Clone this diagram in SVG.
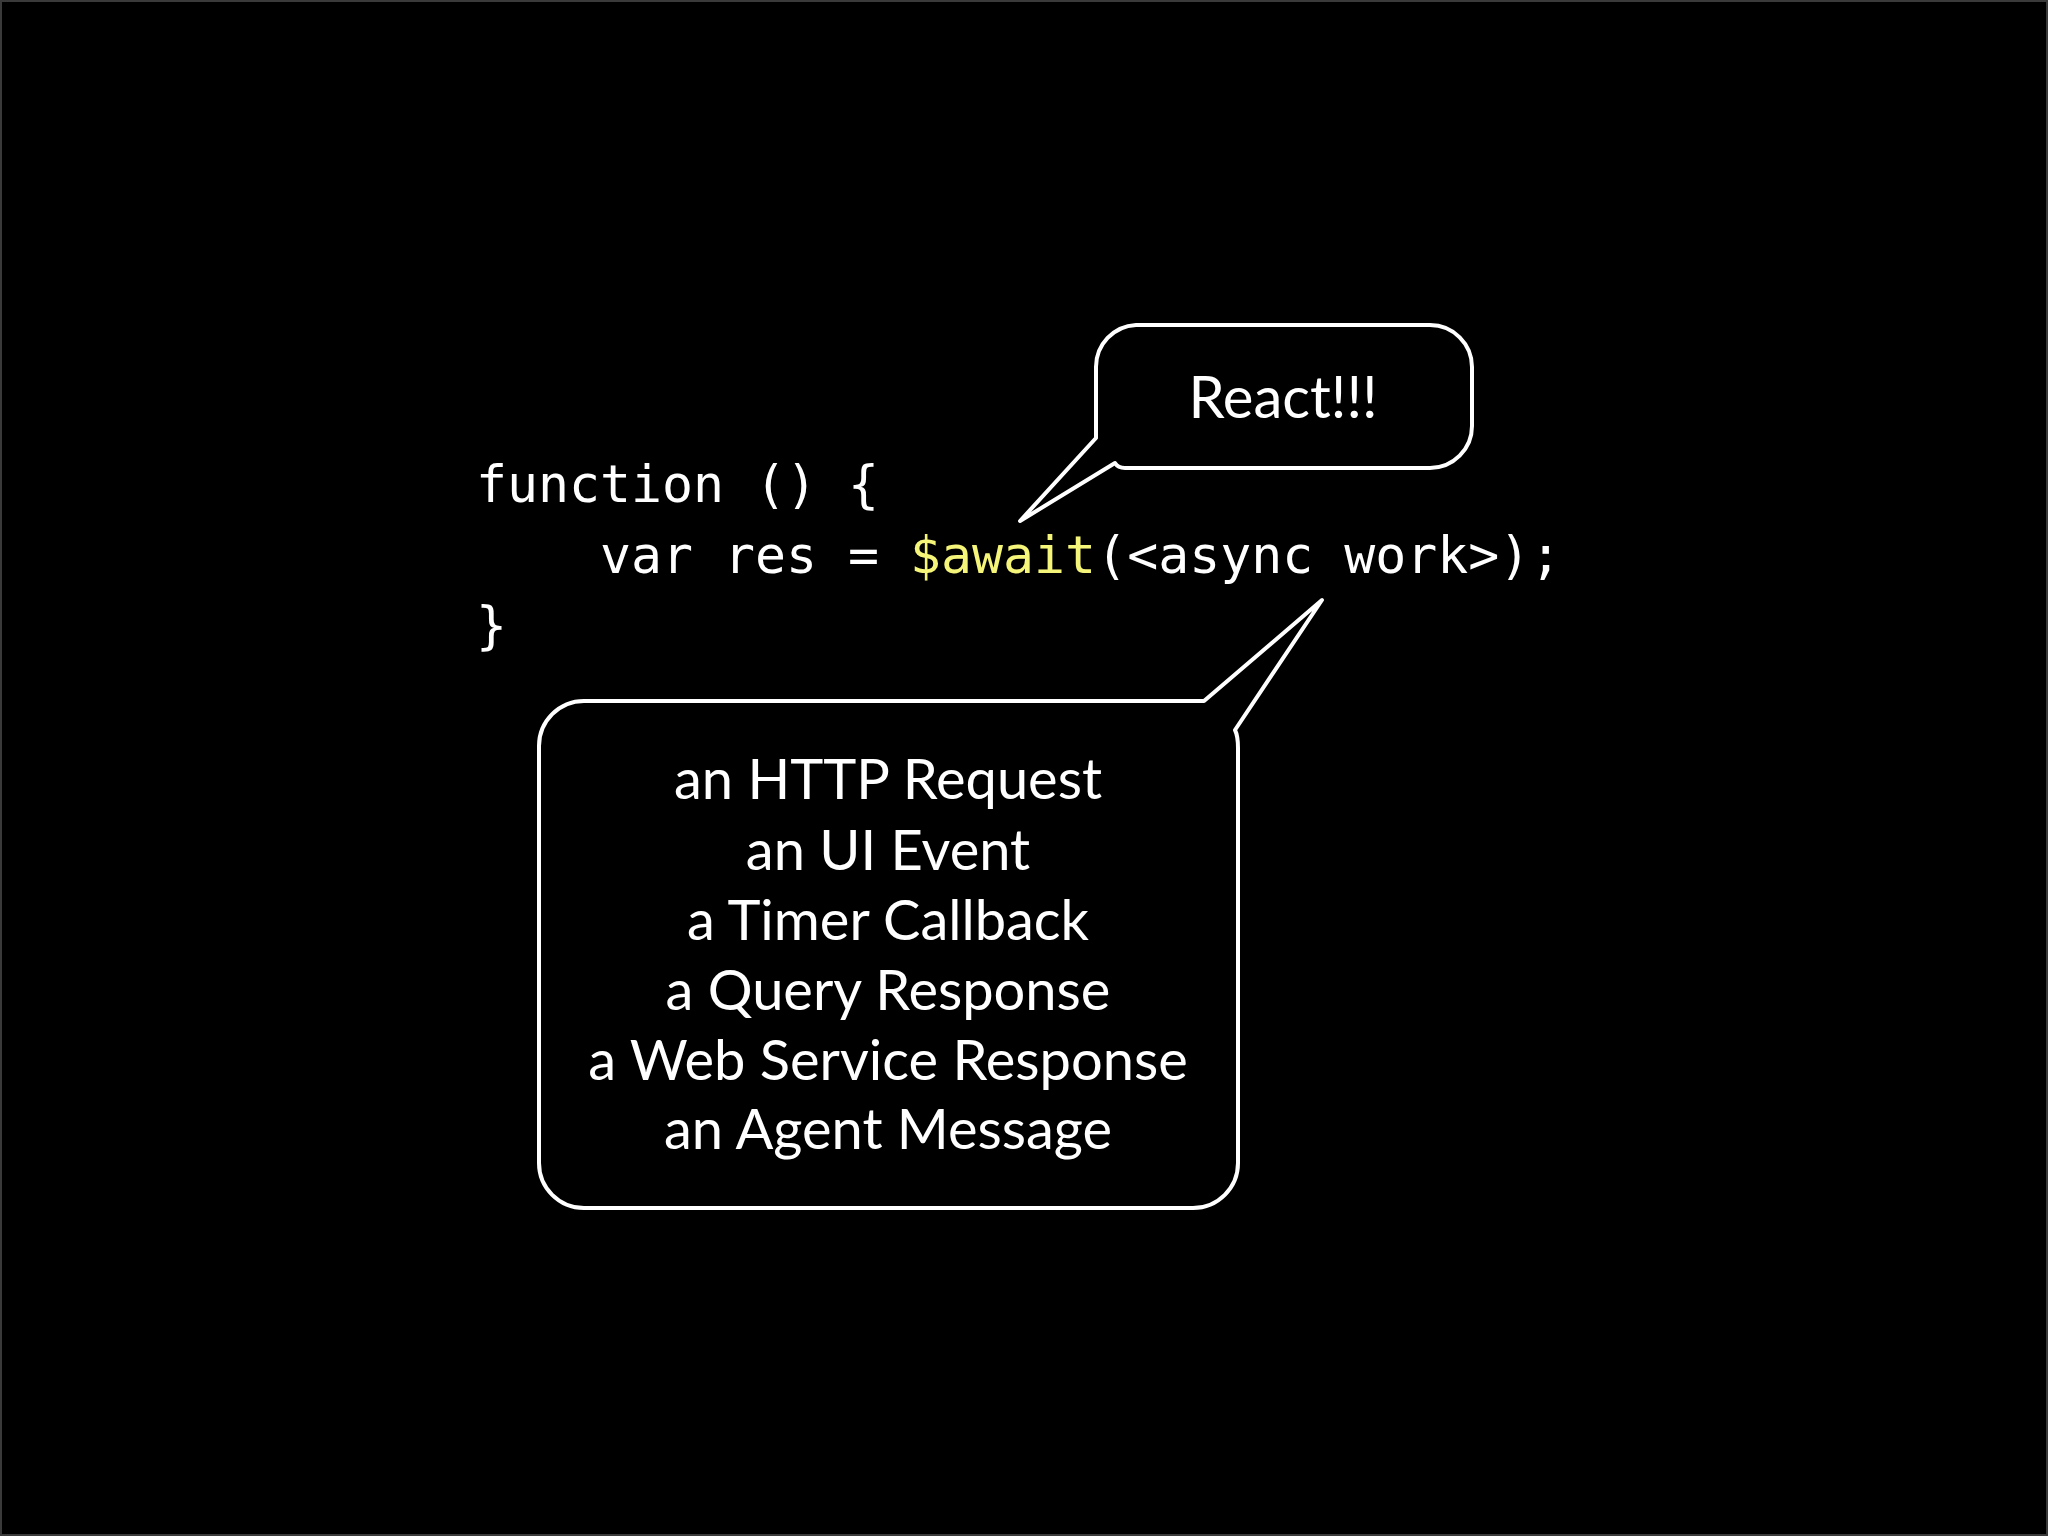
<svg xmlns="http://www.w3.org/2000/svg" width="2048" height="1536" viewBox="0 0 2048 1536">
<style>
.bubble{fill:#000;stroke:#fff;stroke-width:4;stroke-linejoin:round}
.code{font-family:"DejaVu Sans Mono","Liberation Mono",monospace;font-size:51.5px;fill:#fff}
.hl{fill:#f5f57a}
.lbl{font-family:Lato,"Open Sans",sans-serif;font-size:56px;fill:#fff;text-anchor:middle}
.big{font-size:58px}
</style>
<rect x="0" y="0" width="2048" height="1536" fill="#000"/>
<rect x="1" y="1" width="2046" height="1534" fill="none" stroke="#3a3a3a" stroke-width="2"/>
<g id="code">
<text class="code" x="476" y="502" xml:space="preserve">function () {</text>
<text class="code" x="476" y="573" xml:space="preserve">    var res = <tspan class="hl">$await</tspan>(&lt;async work&gt;);</text>
<text class="code" x="476" y="643" xml:space="preserve">}</text>
</g>
<g id="connectors"></g>
<g id="react-bubble">
<path class="bubble" d="M 1136 325 H 1430 A 42 42 0 0 1 1472 367 V 426 A 42 42 0 0 1 1430 468 H 1125 Q 1118 468 1115 463 L 1020 521 L 1096 438 V 367 A 42 42 0 0 1 1136 325 Z"/>
<text class="lbl big" x="1283" y="418">React!!!</text>
</g>
<g id="events-bubble">
<path class="bubble" d="M 584 701 H 1204 L 1322 600 L 1235 730 Q 1238 736 1238 748 V 1163 A 45 45 0 0 1 1193 1208 H 584 A 45 45 0 0 1 539 1163 V 746 A 45 45 0 0 1 584 701 Z"/>
<text class="lbl" x="888" y="799">an HTTP Request</text>
<text class="lbl" x="888" y="870">an UI Event</text>
<text class="lbl" x="888" y="940">a Timer Callback</text>
<text class="lbl" x="888" y="1010">a Query Response</text>
<text class="lbl" x="888" y="1080">a Web Service Response</text>
<text class="lbl" x="888" y="1149">an Agent Message</text>
</g>
</svg>
